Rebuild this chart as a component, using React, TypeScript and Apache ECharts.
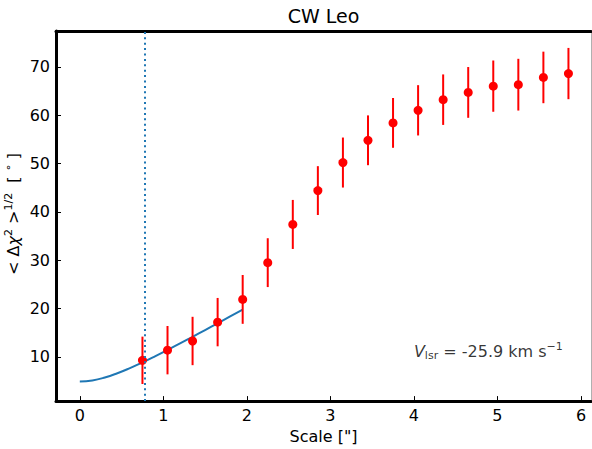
import React, { useEffect, useRef } from "react";
import * as echarts from "echarts";

// Structure-function points (Scale ["], dispersion [deg], 1-sigma error)
const scaleX = [0.75, 1.05, 1.35, 1.65, 1.95, 2.25, 2.55, 2.85, 3.15, 3.45, 3.75, 4.05, 4.35, 4.65, 4.95, 5.25, 5.55, 5.85];
const dispersion = [9.3, 11.4, 13.3, 17.2, 21.9, 29.5, 37.4, 44.4, 50.2, 54.8, 58.4, 61.0, 63.2, 64.7, 66.0, 66.3, 67.8, 68.6];
const errors = [4.9, 5.0, 5.0, 5.0, 5.05, 5.05, 5.07, 5.05, 5.17, 5.15, 5.15, 5.2, 5.22, 5.25, 5.3, 5.35, 5.33, 5.3];

// Fitted curve
const fitX = [0, 0.15, 0.3, 0.45, 0.6, 0.75, 0.9, 1.05, 1.2, 1.35, 1.5, 1.65, 1.8, 1.95];
const fitY = [4.93, 5.15, 5.75, 6.63, 7.69, 8.87, 10.13, 11.45, 12.79, 14.17, 15.56, 16.96, 18.38, 19.8];

// Beam size marker
const beamScale = 0.78;

// Annotation anchor (data coords)
const annotationPos = [4, 10];

const xTicks = [0, 1, 2, 3, 4, 5, 6];
const yTicks = [10, 20, 30, 40, 50, 60, 70];

const FONT = "DejaVu Sans";

export default function App() {
  const ref = useRef<HTMLDivElement>(null);

  useEffect(() => {
    if (!ref.current) return;
    const chart = echarts.init(ref.current, undefined, { renderer: "svg" });

    const xMin = -0.285, xMax = 6.12;
    const yMin = 0.87, yMax = 77.4;

    const option: any = {
      animation: false,
      backgroundColor: "#ffffff",
      grid: { left: 56, right: 1, top: 31, bottom: 47, containLabel: false },
      xAxis: [
        {
          type: "value",
          min: xMin,
          max: xMax,
          position: "bottom",
          name: 'Scale ["]',
          nameLocation: "middle",
          nameGap: 21,
          nameTextStyle: { fontFamily: FONT, fontSize: 16, color: "#000" },
          axisLine: { show: true, onZero: false, lineStyle: { color: "#000", width: 3 } },
          axisTick: { show: true, inside: true, length: 5, customValues: xTicks, lineStyle: { color: "#000", width: 1 } },
          axisLabel: { show: true, margin: 6, customValues: xTicks, fontFamily: FONT, fontSize: 16, color: "#000" },
          splitLine: { show: false },
        },
        {
          type: "value",
          min: xMin,
          max: xMax,
          position: "top",
          axisLine: { show: true, onZero: false, lineStyle: { color: "#000", width: 3 } },
          axisTick: { show: false },
          axisLabel: { show: false },
          splitLine: { show: false },
        },
      ],
      yAxis: [
        {
          type: "value",
          min: yMin,
          max: yMax,
          position: "left",
          axisLine: { show: true, onZero: false, lineStyle: { color: "#000", width: 3 } },
          axisTick: { show: true, inside: true, length: 5, customValues: yTicks, lineStyle: { color: "#000", width: 1 } },
          axisLabel: { show: true, margin: 6, customValues: yTicks, fontFamily: FONT, fontSize: 16, color: "#000" },
          splitLine: { show: false },
        },
        {
          type: "value",
          min: yMin,
          max: yMax,
          position: "right",
          axisLine: { show: true, onZero: false, lineStyle: { color: "#b0b0b0", width: 1 } },
          axisTick: { show: false },
          axisLabel: { show: false },
          splitLine: { show: false },
        },
      ],
      graphic: [
        {
          type: "text",
          x: 323.5,
          y: 15.5,
          style: {
            text: "CW Leo",
            fontFamily: FONT,
            fontSize: 19,
            fill: "#000",
            align: "center",
            verticalAlign: "middle",
          },
        },
        {
          type: "text",
          x: 13,
          y: 214,
          rotation: Math.PI / 2,
          style: {
            text: "{n|< Δ}{i|χ}{sup|2}{n| >}{sup|1/2}{n|  [ }{sup|∘}{n| ]}",
            align: "center",
            verticalAlign: "middle",
            fill: "#000",
            rich: {
              n: { fontFamily: FONT, fontSize: 16, lineHeight: 20, fill: "#000" },
              i: { fontFamily: FONT, fontSize: 16, lineHeight: 20, fontStyle: "italic", fill: "#000" },
              sup: { fontFamily: FONT, fontSize: 11, lineHeight: 10, verticalAlign: "top", fill: "#000" },
            },
          },
        },
      ],
      series: [
        {
          type: "line",
          data: fitX.map((x, i) => [x, fitY[i]]),
          smooth: true,
          showSymbol: false,
          symbol: "none",
          lineStyle: { color: "#1f77b4", width: 2 },
          z: 2,
          markLine: {
            silent: true,
            symbol: "none",
            label: { show: false },
            lineStyle: { color: "#1f77b4", width: 2, type: [2, 3.4] },
            data: [{ xAxis: beamScale }],
          },
        },
        {
          type: "custom",
          data: scaleX.map((x, i) => [x, dispersion[i], errors[i]]),
          encode: { x: 0, y: 1 },
          z: 3,
          renderItem: (params: any, api: any) => {
            const x = api.value(0);
            const y = api.value(1);
            const e = api.value(2);
            const p1 = api.coord([x, y - e]);
            const p2 = api.coord([x, y + e]);
            return {
              type: "line",
              shape: { x1: p1[0], y1: p1[1], x2: p2[0], y2: p2[1] },
              style: { stroke: "#ff0000", lineWidth: 2 },
            };
          },
        },
        {
          type: "scatter",
          data: scaleX.map((x, i) => [x, dispersion[i]]),
          symbol: "circle",
          symbolSize: 9,
          itemStyle: { color: "#ff0000", opacity: 1 },
          z: 4,
        },
        {
          type: "scatter",
          data: [annotationPos],
          symbolSize: 0,
          silent: true,
          z: 5,
          label: {
            show: true,
            position: [0, 0],
            align: "left",
            verticalAlign: "middle",
            offset: [0, -5.5],
            formatter: "{v|V}{sub|lsr}{n| = -25.9 km s}{sup|−1}",
            rich: {
              v: { fontFamily: FONT, fontSize: 16, lineHeight: 20, fontStyle: "italic", color: "#000" },
              n: { fontFamily: FONT, fontSize: 16, lineHeight: 20, color: "#000" },
              sub: { fontFamily: FONT, fontSize: 11, lineHeight: 8, verticalAlign: "bottom", color: "#000" },
              sup: { fontFamily: FONT, fontSize: 11, lineHeight: 10, verticalAlign: "top", color: "#000" },
            },
          },
        },
      ],
    };

    chart.setOption(option);
    return () => {
      chart.dispose();
    };
  }, []);

  return <div ref={ref} style={{ width: 592, height: 449, position: "absolute", left: 0, top: 0 }} />;
}
